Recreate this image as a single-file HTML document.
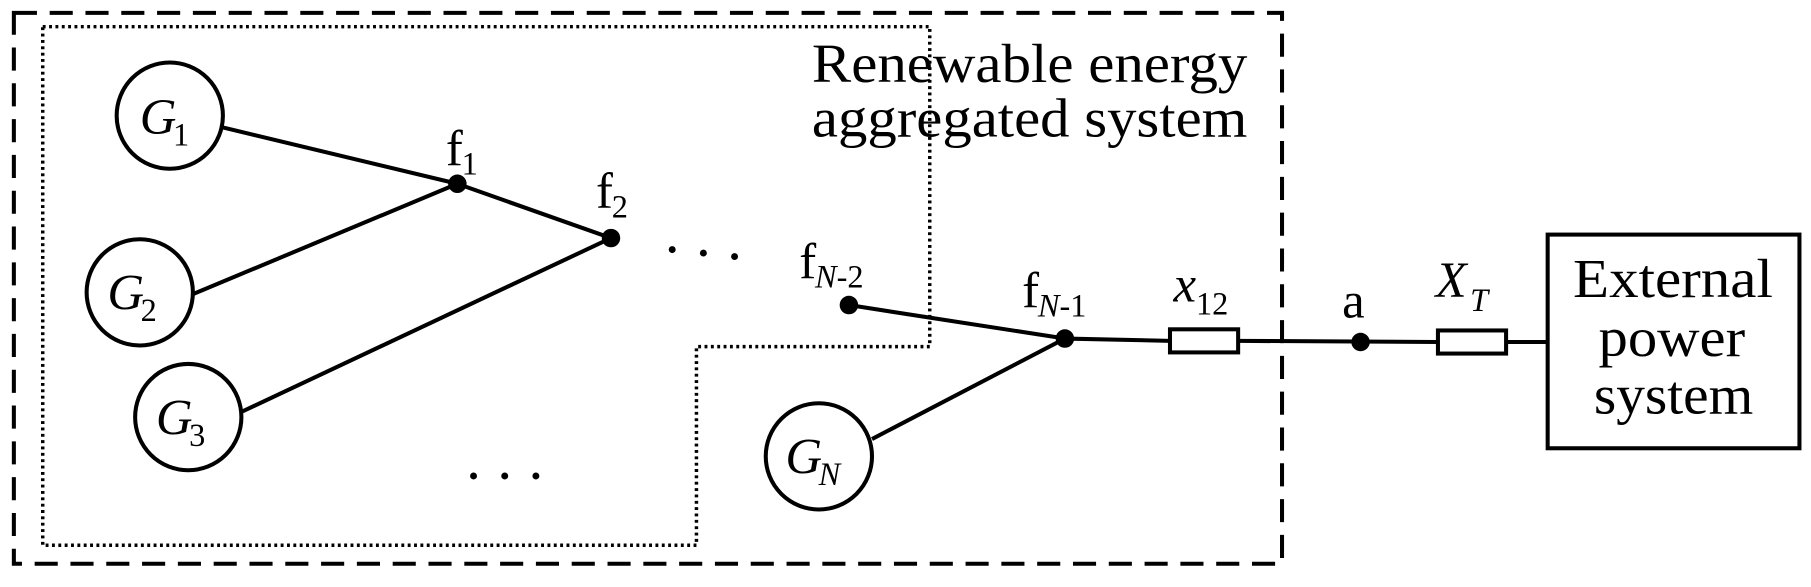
<!DOCTYPE html>
<html><head><style>html,body{margin:0;padding:0;background:#fff;overflow:hidden}svg{display:block}</style></head>
<body>
<svg width="1811" height="587" viewBox="0 0 1568 508" xmlns="http://www.w3.org/2000/svg" font-family="Liberation Serif, serif" fill="#000">
<rect x="12" y="11" width="1098" height="477" fill="none" stroke="#000" stroke-width="3.5" stroke-dasharray="20 11"/>
<polygon points="37,23 805,23 805,300 603,300 603,472 37,472" fill="none" stroke="#000" stroke-width="3" stroke-dasharray="2.5 3"/>
<g fill="#fff" stroke="#000" stroke-width="3.5">
<circle cx="147" cy="100" r="46"/>
<circle cx="121" cy="253" r="46"/>
<circle cx="163" cy="361" r="46"/>
<circle cx="709" cy="395" r="46"/>
</g>
<g stroke="#000" stroke-width="3.5" fill="none">
<line x1="192" y1="110" x2="396" y2="159"/>
<line x1="166" y1="255" x2="396" y2="159"/>
<line x1="396" y1="159" x2="529" y2="206"/>
<line x1="208" y1="357" x2="529" y2="206"/>
<line x1="735" y1="264" x2="922" y2="293"/>
<line x1="755" y1="380" x2="922" y2="293"/>
<line x1="922" y1="293" x2="1013" y2="295"/>
<line x1="1072" y1="295" x2="1245" y2="296"/>
<line x1="1304" y1="296" x2="1340" y2="296"/>
<rect x="1013" y="285" width="59" height="20" fill="#fff"/>
<rect x="1245" y="286" width="59" height="20" fill="#fff"/>
<rect x="1340" y="203" width="218" height="185" fill="#fff"/>
</g>
<circle cx="396" cy="159" r="8"/><circle cx="529" cy="206" r="8"/><circle cx="735" cy="264" r="8"/><circle cx="922" cy="293" r="8"/><circle cx="1178" cy="296" r="8"/>
<circle cx="582" cy="216" r="3"/><circle cx="609" cy="219" r="3"/><circle cx="636" cy="222" r="3"/>
<circle cx="410" cy="412" r="3"/><circle cx="437" cy="412" r="3"/><circle cx="464" cy="412" r="3"/>
<g font-size="48">
<text x="703" y="71" textLength="377" lengthAdjust="spacingAndGlyphs">Renewable energy</text>
<text x="703" y="118" textLength="377" lengthAdjust="spacingAndGlyphs">aggregated system</text>
<text x="1362" y="257" textLength="173" lengthAdjust="spacingAndGlyphs">External</text>
<text x="1384" y="308" textLength="127" lengthAdjust="spacingAndGlyphs">power</text>
<text x="1380" y="358" textLength="138" lengthAdjust="spacingAndGlyphs">system</text>
</g>
<g font-size="44">
<text x="121" y="116" font-style="italic">G<tspan font-size="28" font-style="normal" dx="-3" dy="10">1</tspan></text>
<text x="93" y="268" font-style="italic">G<tspan font-size="28" font-style="normal" dx="-3" dy="10">2</tspan></text>
<text x="135" y="376" font-style="italic">G<tspan font-size="28" font-style="normal" dx="-3" dy="10">3</tspan></text>
<text x="680" y="410" font-style="italic">G<tspan font-size="28" dx="-3" dy="10">N</tspan></text>
<text x="386" y="143">f<tspan font-size="28" dx="-1" dy="8">1</tspan></text>
<text x="516" y="180">f<tspan font-size="28" dx="-1" dy="8">2</tspan></text>
<text x="692" y="241">f<tspan font-size="28" dx="-1" dy="8"><tspan font-style="italic">N</tspan>-2</tspan></text>
<text x="885" y="266">f<tspan font-size="28" dx="-1" dy="8"><tspan font-style="italic">N</tspan>-1</tspan></text>
<text x="1016" y="261" font-style="italic">x<tspan font-size="28" font-style="normal" dy="11">12</tspan></text>
<text x="1162" y="275">a</text>
<text x="1243" y="257" font-style="italic">X<tspan font-size="28" dx="3" dy="12">T</tspan></text>
</g>
</svg>
</body></html>
